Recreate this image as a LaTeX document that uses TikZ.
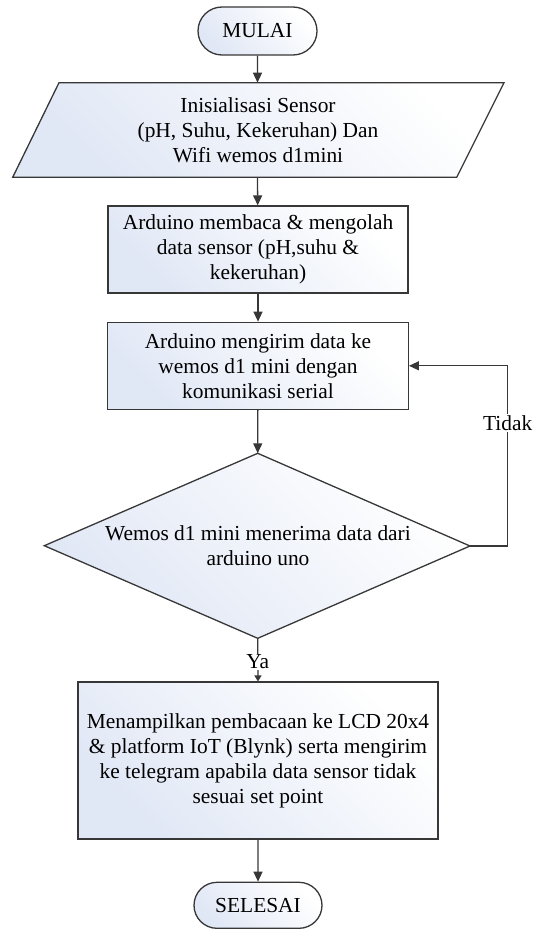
\documentclass[tikz,border=0pt]{standalone}
\usepackage{fontspec}
\setmainfont{Liberation Serif}
\usetikzlibrary{arrows.meta,shapes.misc}
\definecolor{edgec}{RGB}{55,55,55}
\definecolor{fillc}{RGB}{224,231,245}
\begin{document}
\begin{tikzpicture}[x=1pt,y=-1pt,
  every node/.style={font=\fontsize{21.4}{25}\selectfont},
  shapefill/.style={draw=edgec, line width=1.3pt, top color=fillc, bottom color=white, shading angle=135},
  procbox/.style={shapefill, rectangle, align=center, inner sep=0pt},
  term/.style={shapefill, rounded rectangle, inner sep=0pt},
  flow/.style={draw=edgec, line width=1.3pt, -{Triangle[length=10pt,width=9pt]}},
  smallflow/.style={draw=edgec, line width=1.3pt, -{Triangle[length=6pt,width=7pt]}},
  lbl/.style={fill=white, inner sep=1pt}]
\useasboundingbox (0,0) rectangle (536,931);

% start
\node[term, minimum width=119pt, minimum height=48pt] (start) at (257.5,31) {MULAI};

% input (parallelogram)
\coordinate (pa) at (12.7,177.3);
\coordinate (pb) at (59,82.7);
\coordinate (pc) at (504,82.7);
\coordinate (pd) at (456.7,177.3);
\path[shapefill] (pa) -- (pb) -- (pc) -- (pd) -- cycle;
\node[align=center] (init) at (258,130) {Inisialisasi Sensor\\(pH, Suhu, Kekeruhan) Dan\\Wifi wemos d1mini};
\coordinate (initin) at (257.5,82.7);
\coordinate (initout) at (257.5,177.3);

% process boxes
\node[procbox, minimum width=300pt, minimum height=87pt] (read) at (258,249.5)
  {Arduino membaca \& mengolah\\data sensor (pH,suhu \&\\kekeruhan)};
\node[procbox, minimum width=300.6pt, minimum height=87pt] (send) at (258,365.8)
  {Arduino mengirim data ke\\wemos d1 mini dengan\\komunikasi serial};

% decision (diamond)
\coordinate (dt) at (257.7,453.3);
\coordinate (dr) at (470,546);
\coordinate (db) at (257.7,638.3);
\coordinate (dl) at (44.3,545.7);
\path[shapefill] (dt) -- (dr) -- (db) -- (dl) -- cycle;
\node[align=center] (recv) at (258,546) {Wemos d1 mini menerima data dari\\arduino uno};

% output box
\node[procbox, minimum width=360pt, minimum height=157pt] (show) at (258,760.6)
  {Menampilkan pembacaan ke LCD 20x4\\\& platform IoT (Blynk) serta mengirim\\ke telegram apabila data sensor tidak\\sesuai set point};

% end
\node[term, minimum width=128pt, minimum height=46pt] (finish) at (258,905.3) {SELESAI};

% connectors
\draw[flow] (start) -- (initin);
\draw[flow] (initout) -- (read);
\draw[flow] (read) -- (send);
\draw[flow] (send) -- (dt);
\coordinate (loopc) at (507.7,546);
\draw[flow] (dr) -- (loopc) |- (send.east);
\node[lbl] (tidak) at (507.7,423) {Tidak};
\draw[smallflow] (db) -- (show.north);
\node[lbl] (ya) at (257.7,661.7) {Ya};
\draw[flow] (show) -- (finish);
\end{tikzpicture}
\end{document}
